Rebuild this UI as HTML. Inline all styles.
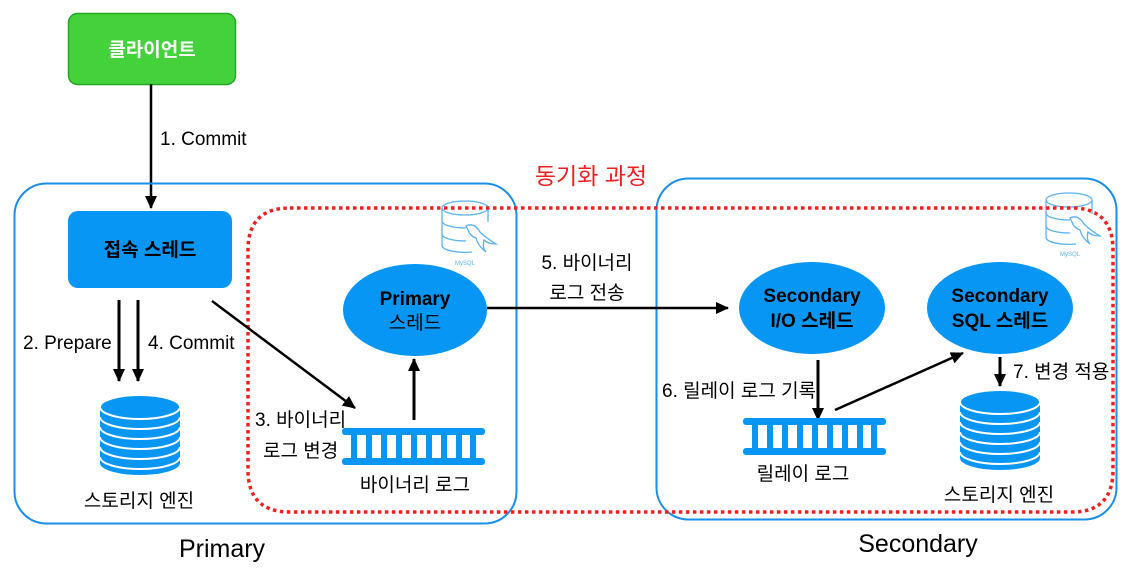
<!DOCTYPE html>
<html><head><meta charset="utf-8"><style>
html,body{margin:0;padding:0;background:#fff;}
text{font-family:"Liberation Sans","Noto Sans CJK KR",sans-serif;}
</style></head><body>
<svg width="1129" height="564" viewBox="0 0 1129 564" xmlns="http://www.w3.org/2000/svg">
<defs>
<marker id="ah" markerWidth="14" markerHeight="14" refX="12" refY="6" orient="auto" markerUnits="userSpaceOnUse">
<path d="M0,0 L13,6 L0,12 Z" fill="#000"/></marker>
<g id="db">
<path d="M0,12 L0,68 A40,12 0 0 0 80,68 L80,12 Z" fill="#0896f5"/>
<ellipse cx="40" cy="12" rx="40" ry="12" fill="#0896f5" stroke="#fff" stroke-width="2"/>
<path d="M0,22 A40,12 0 0 0 80,22 M0,32 A40,12 0 0 0 80,32 M0,42 A40,12 0 0 0 80,42 M0,52 A40,12 0 0 0 80,52 M0,62 A40,12 0 0 0 80,62" fill="none" stroke="#fff" stroke-width="2"/>
</g>
<g id="ladder">
<rect x="0" y="0" width="143" height="7" rx="3" fill="#0896f5"/>
<rect x="0" y="30" width="143" height="7" rx="3" fill="#0896f5"/>
<g fill="#0896f5">
<rect x="9" y="4" width="6" height="28"/><rect x="24" y="4" width="6" height="28"/><rect x="39" y="4" width="6" height="28"/><rect x="54" y="4" width="6" height="28"/><rect x="69" y="4" width="6" height="28"/><rect x="84" y="4" width="6" height="28"/><rect x="99" y="4" width="6" height="28"/><rect x="114" y="4" width="6" height="28"/><rect x="128" y="4" width="6" height="28"/>
</g>
</g>
<g id="mysql" fill="none" stroke="#5ab4f0" stroke-width="1.3">
<ellipse cx="23" cy="8" rx="23" ry="7"/>
<path d="M0,8 L0,46 A23,7 0 0 0 30,52 M46,8 L46,22"/>
<path d="M0,21 A23,7 0 0 0 24,28 M0,34 A23,7 0 0 0 24,41"/>
<path d="M24,26 Q32,22 38,32 Q44,38 54,44 Q46,44 42,40 Q40,48 44,52 Q36,46 34,38 Q28,36 26,30 Z"/>
</g>
</defs>

<rect x="68.5" y="13.5" width="167" height="71" rx="9" fill="#44d23c" stroke="#20a820" stroke-width="1.5"/>
<text x="152" y="56" text-anchor="middle" font-size="19" font-weight="bold" fill="#fff">클라이언트</text>
<line x1="151" y1="84" x2="151" y2="208" stroke="#000" stroke-width="2.5" marker-end="url(#ah)"/>
<text x="160" y="145" font-size="19">1. Commit</text>

<text x="591" y="184" text-anchor="middle" font-size="23" fill="#f02020">동기화 과정</text>

<rect x="14.5" y="183.5" width="502" height="340" rx="32" fill="none" stroke="#1a8fe8" stroke-width="2"/>
<rect x="656.5" y="178.5" width="460" height="341" rx="32" fill="none" stroke="#1a8fe8" stroke-width="2"/>

<use href="#mysql" x="442" y="200"/>
<text x="465" y="265" text-anchor="middle" font-size="6" fill="#5ab4f0">MySQL</text>
<use href="#mysql" x="1046" y="192"/>
<text x="1070" y="256" text-anchor="middle" font-size="6" fill="#5ab4f0">MySQL</text>

<path d="M290,208 L1075,208 Q1113,210 1113,250 L1113,470 Q1113,512 1072,512 L290,512 Q248,512 248,470 L248,250 Q248,208 290,208 Z" fill="none" stroke="#f02020" stroke-width="3.5" stroke-dasharray="3.5,3.5"/>

<rect x="68" y="211" width="164" height="77" rx="10" fill="#0896f5"/>
<text x="150" y="256" text-anchor="middle" font-size="19" font-weight="bold" fill="#000">접속 스레드</text>
<line x1="119" y1="300" x2="119" y2="381" stroke="#000" stroke-width="3" marker-end="url(#ah)"/>
<line x1="138" y1="300" x2="138" y2="381" stroke="#000" stroke-width="3" marker-end="url(#ah)"/>
<text x="23" y="349" font-size="19">2. Prepare</text>
<text x="148" y="349" font-size="19">4. Commit</text>
<use href="#db" x="100" y="395"/>
<text x="139" y="507" text-anchor="middle" font-size="19">스토리지 엔진</text>

<line x1="212" y1="301" x2="355" y2="408" stroke="#000" stroke-width="2.5" marker-end="url(#ah)"/>
<ellipse cx="415" cy="310" rx="72" ry="46" fill="#0896f5"/>
<text x="415" y="305" text-anchor="middle" font-size="19" font-weight="bold">Primary</text>
<text x="415" y="329" text-anchor="middle" font-size="19">스레드</text>
<line x1="414" y1="420" x2="414" y2="359" stroke="#000" stroke-width="3" marker-end="url(#ah)"/>
<use href="#ladder" x="342" y="428"/>
<text x="415" y="491" text-anchor="middle" font-size="19">바이너리 로그</text>
<text x="255" y="426" font-size="19">3. 바이너리</text>
<text x="263" y="457" font-size="19">로그 변경</text>

<line x1="487" y1="308" x2="728" y2="308" stroke="#000" stroke-width="2.5" marker-end="url(#ah)"/>
<text x="587" y="269" text-anchor="middle" font-size="19">5. 바이너리</text>
<text x="587" y="299" text-anchor="middle" font-size="19">로그 전송</text>

<ellipse cx="812" cy="308" rx="73" ry="46" fill="#0896f5"/>
<text x="812" y="302" text-anchor="middle" font-size="19" font-weight="bold">Secondary</text>
<text x="812" y="327" text-anchor="middle" font-size="19" font-weight="bold">I/O 스레드</text>
<ellipse cx="1000" cy="308" rx="73" ry="46" fill="#0896f5"/>
<text x="1000" y="302" text-anchor="middle" font-size="19" font-weight="bold">Secondary</text>
<text x="1000" y="327" text-anchor="middle" font-size="19" font-weight="bold">SQL 스레드</text>

<line x1="818" y1="360" x2="818" y2="420" stroke="#000" stroke-width="3" marker-end="url(#ah)"/>
<text x="662" y="397" font-size="19">6. 릴레이 로그 기록</text>
<use href="#ladder" x="743" y="418"/>
<text x="803" y="480" text-anchor="middle" font-size="19">릴레이 로그</text>
<line x1="835" y1="410" x2="963" y2="353" stroke="#000" stroke-width="2.5" marker-end="url(#ah)"/>
<line x1="1000" y1="357" x2="1000" y2="386" stroke="#000" stroke-width="3" marker-end="url(#ah)"/>
<text x="1013" y="378" font-size="19">7. 변경 적용</text>
<use href="#db" x="960" y="390"/>
<text x="999" y="501" text-anchor="middle" font-size="19">스토리지 엔진</text>

<text x="222" y="557" text-anchor="middle" font-size="25">Primary</text>
<text x="918" y="552" text-anchor="middle" font-size="25">Secondary</text>
</svg>
</body></html>
